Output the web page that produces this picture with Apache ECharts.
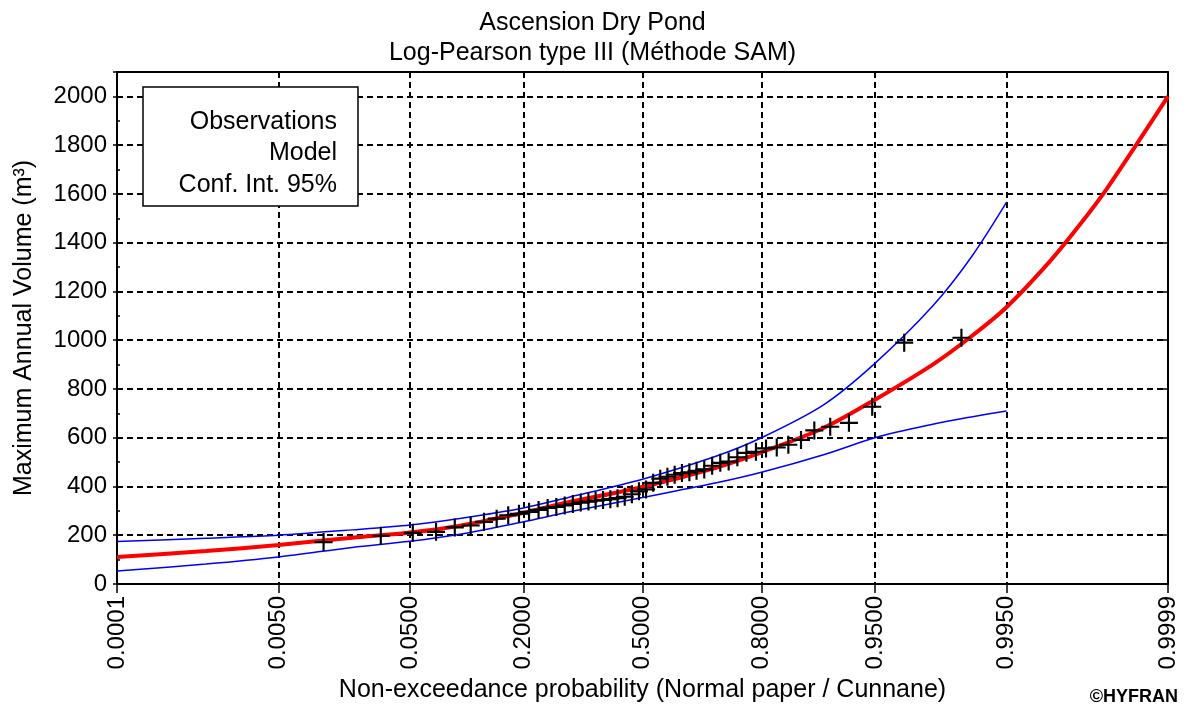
<!DOCTYPE html>
<html>
<head>
<meta charset="utf-8">
<script src="https://cdn.jsdelivr.net/npm/echarts@6/dist/echarts.min.js"></script>
<style>
html,body{margin:0;padding:0;background:#fff;}
#chart{width:1185px;height:711px;}
</style>
</head>
<body>
<div id="chart"></div>
<script>
// ---- data ----
const tickProbs = [0.0001, 0.005, 0.05, 0.2, 0.5, 0.8, 0.95, 0.995, 0.9999];
const tickLabels = ['0.0001', '0.0050', '0.0500', '0.2000', '0.5000', '0.8000', '0.9500', '0.9950', '0.9999'];

const curveProbs = [0.0001, 0.001, 0.005, 0.02, 0.05, 0.1, 0.2, 0.3, 0.5, 0.7, 0.8, 0.9, 0.95, 0.98, 0.99, 0.995, 0.998, 0.999, 0.9995, 0.9999];
const modelVol  = [111, 135, 160, 190, 211, 240, 292, 335, 398, 478, 540, 640, 756, 900, 1015, 1135, 1320, 1470, 1625, 2000];

const ciProbs  = [0.0001, 0.001, 0.005, 0.02, 0.05, 0.1, 0.2, 0.3, 0.5, 0.7, 0.8, 0.9, 0.95, 0.98, 0.99, 0.995];
const upperVol = [174, 188, 200, 222, 242, 270, 312, 355, 430, 525, 600, 735, 905, 1140, 1340, 1565];
const lowerVol = [53, 82, 111, 150, 175, 205, 255, 295, 355, 415, 458, 530, 600, 655, 685, 710];

const obsProbs = [0.012, 0.032, 0.052, 0.072, 0.092, 0.112, 0.131, 0.151, 0.171, 0.191,
                  0.211, 0.231, 0.251, 0.271, 0.291, 0.311, 0.331, 0.351, 0.370, 0.390,
                  0.410, 0.430, 0.450, 0.470, 0.490, 0.510, 0.530, 0.550, 0.570, 0.590,
                  0.610, 0.630, 0.649, 0.669, 0.689, 0.709, 0.729, 0.749, 0.769, 0.789,
                  0.809, 0.829, 0.849, 0.869, 0.888, 0.908, 0.928, 0.948, 0.968, 0.988];
const obsVol = [172, 198, 210, 214, 232, 240, 255, 268, 282, 288,
                296, 304, 312, 316, 322, 328, 334, 338, 342, 345,
                348, 352, 358, 368, 380, 388, 415, 432, 440, 448,
                455, 458, 464, 470, 485, 497, 502, 520, 538, 542,
                556, 560, 571, 591, 630, 645, 661, 727, 990, 1010];

// ---- normal probability paper transform (probit) ----
function probit(p) {
  const a=[-3.969683028665376e+01,2.209460984245205e+02,-2.759285104469687e+02,1.383577518672690e+02,-3.066479806614716e+01,2.506628277459239e+00];
  const b=[-5.447609879822406e+01,1.615858368580409e+02,-1.556989798598866e+02,6.680131188771972e+01,-1.328068155288572e+01];
  const c=[-7.784894002430293e-03,-3.223964580411365e-01,-2.400758277161838e+00,-2.549732539343734e+00,4.374664141464968e+00,2.938163982698783e+00];
  const d=[7.784695709041462e-03,3.224671290700398e-01,2.445134137142996e+00,3.754408661907416e+00];
  const pl=0.02425, ph=1-pl; let q, r;
  if (p < pl) { q=Math.sqrt(-2*Math.log(p)); return (((((c[0]*q+c[1])*q+c[2])*q+c[3])*q+c[4])*q+c[5])/((((d[0]*q+d[1])*q+d[2])*q+d[3])*q+1); }
  if (p <= ph) { q=p-0.5; r=q*q; return (((((a[0]*r+a[1])*r+a[2])*r+a[3])*r+a[4])*r+a[5])*q/(((((b[0]*r+b[1])*r+b[2])*r+b[3])*r+b[4])*r+1); }
  q=Math.sqrt(-2*Math.log(1-p)); return -(((((c[0]*q+c[1])*q+c[2])*q+c[3])*q+c[4])*q+c[5])/((((d[0]*q+d[1])*q+d[2])*q+d[3])*q+1);
}
const zip = (ps, vs) => ps.map((p, i) => [probit(p), vs[i]]);
const tickZ = tickProbs.map(probit);
const zMin = tickZ[0], zMax = tickZ[tickZ.length - 1];

const FONT = 'Liberation Sans';
const crossPath = 'path://M8.8,0 h2.4 v8.8 h8.8 v2.4 h-8.8 v8.8 h-2.4 v-8.8 h-8.8 v-2.4 h8.8 z';
const gridLine = {color: '#000', width: 2, type: [6, 4]};

const chart = echarts.init(document.getElementById('chart'), null, {renderer: 'canvas'});
chart.setOption({
  animation: false,
  backgroundColor: '#fff',
  textStyle: {fontFamily: FONT, color: '#000'},
  title: {
    text: 'Ascension Dry Pond\nLog-Pearson type III (Méthode SAM)',
    left: 'center', top: 3,
    textStyle: {fontFamily: FONT, fontSize: 25, fontWeight: 'normal', color: '#000', lineHeight: 30}
  },
  grid: {left: 117, right: 17, top: 72, bottom: 127, containLabel: false},
  xAxis: [{
    type: 'value', position: 'bottom', min: zMin, max: zMax,
    name: 'Non-exceedance probability (Normal paper / Cunnane)',
    nameLocation: 'middle', nameGap: 88,
    nameTextStyle: {fontFamily: FONT, fontSize: 25, color: '#000'},
    axisLine: {show: true, onZero: false, lineStyle: {color: '#000', width: 2}},
    axisTick: {show: true, customValues: tickZ, length: 9, lineStyle: {color: '#000', width: 1.5}},
    axisLabel: {
      customValues: tickZ, rotate: 90, margin: 12, fontSize: 24, fontFamily: FONT, color: '#000',
      showMinLabel: true, showMaxLabel: true,
      formatter: v => { let k = 0, best = Infinity; tickZ.forEach((z, i) => { const dd = Math.abs(z - v); if (dd < best) { best = dd; k = i; } }); return tickLabels[k]; }
    },
    splitLine: {show: true, lineStyle: gridLine}
  }, {
    type: 'value', position: 'top', min: zMin, max: zMax,
    axisLine: {show: true, onZero: false, lineStyle: {color: '#000', width: 2}},
    axisTick: {show: true, inside: true, customValues: tickZ, length: 5, lineStyle: {color: '#000', width: 1.5}},
    axisLabel: {show: false},
    splitLine: {show: false}
  }],
  yAxis: [{
    type: 'value', position: 'left', min: 0, max: 2100, interval: 200,
    name: 'Maximum Annual Volume (m³)', nameLocation: 'middle', nameGap: 80,
    nameTextStyle: {fontFamily: FONT, fontSize: 25, color: '#000'},
    axisLine: {show: true, onZero: false, lineStyle: {color: '#000', width: 2}},
    axisTick: {show: true, length: 4, lineStyle: {color: '#000', width: 1.5}},
    axisLabel: {fontSize: 24, fontFamily: FONT, color: '#000', margin: 10,
      formatter: v => (v > 2000 ? '' : String(v))},
    splitLine: {show: true, lineStyle: gridLine}
  }, {
    type: 'value', position: 'right', min: 0, max: 2100, interval: 200,
    axisLine: {show: true, onZero: false, lineStyle: {color: '#000', width: 2}},
    axisTick: {show: true, inside: true, length: 5, lineStyle: {color: '#000', width: 1.5}},
    axisLabel: {show: false}, splitLine: {show: false}
  }, {
    type: 'value', position: 'left', offset: 0, min: 0, max: 2100, interval: 200,
    axisLine: {show: true, onZero: false, lineStyle: {color: '#000', width: 2}},
    axisTick: {show: true, inside: true, length: 3, lineStyle: {color: '#000', width: 1.5}},
    minorTick: {show: true, splitNumber: 2, length: 3, lineStyle: {color: '#000', width: 1.5}},
    axisLabel: {show: false}, splitLine: {show: false}
  }],
  series: [{
    name: 'Conf. Int. 95% (lower)', type: 'line', xAxisIndex: 0, yAxisIndex: 0,
    data: zip(ciProbs, lowerVol), smooth: 0.3, showSymbol: false, symbol: 'none',
    lineStyle: {color: '#0000ff', width: 1.5}, z: 3
  }, {
    name: 'Conf. Int. 95% (upper)', type: 'line', xAxisIndex: 0, yAxisIndex: 0,
    data: zip(ciProbs, upperVol), smooth: 0.3, showSymbol: false, symbol: 'none',
    lineStyle: {color: '#0000ff', width: 1.5}, z: 3
  }, {
    name: 'Model', type: 'line', xAxisIndex: 0, yAxisIndex: 0,
    data: zip(curveProbs, modelVol), smooth: 0.3, showSymbol: false, symbol: 'none',
    lineStyle: {color: '#ff0000', width: 4}, z: 4
  }, {
    name: 'Observations', type: 'scatter', xAxisIndex: 0, yAxisIndex: 0,
    data: zip(obsProbs, obsVol), symbol: crossPath, symbolSize: 18,
    itemStyle: {color: '#000', opacity: 1}, z: 5
  }],
  graphic: [{
    type: 'rect', z: 100,
    shape: {x: 143, y: 87, width: 215, height: 119},
    style: {fill: '#fff', stroke: '#000', lineWidth: 1.5}
  }, {
    type: 'text', z: 101, x: 337, y: 122,
    style: {text: 'Observations', fill: '#000', font: '25px "Liberation Sans"', textAlign: 'right', textVerticalAlign: 'middle'}
  }, {
    type: 'text', z: 101, x: 337, y: 153,
    style: {text: 'Model', fill: '#000', font: '25px "Liberation Sans"', textAlign: 'right', textVerticalAlign: 'middle'}
  }, {
    type: 'text', z: 101, x: 337, y: 185,
    style: {text: 'Conf. Int. 95%', fill: '#000', font: '25px "Liberation Sans"', textAlign: 'right', textVerticalAlign: 'middle'}
  }, {
    type: 'text', z: 101, x: 1178, y: 697,
    style: {text: '©HYFRAN', fill: '#000', font: 'bold 18px "Liberation Sans"', textAlign: 'right', textVerticalAlign: 'middle'}
  }]
});
</script>
</body>
</html>
